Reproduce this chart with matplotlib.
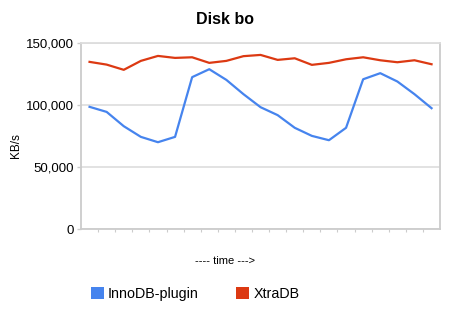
import matplotlib
matplotlib.use('Agg')
import matplotlib.pyplot as plt
from matplotlib.patches import Patch
import numpy as np

plt.rcParams['font.family'] = ['Liberation Sans', 'DejaVu Sans']

# values (KB/s per time sample)
innodb_plugin = [98500, 94400, 82900, 74300, 70000, 74300, 122400, 128800, 120200, 108700,
                 98200, 91800, 81600, 75100, 71600, 81600, 120700, 125600, 118900, 108700, 97400]
xtradb = [134700, 132500, 128300, 135500, 139500, 137900, 138400, 133900, 135500, 139300,
          140300, 136300, 137600, 132300, 133900, 136800, 138400, 136000, 134400, 136000, 132800]
series_names = ['InnoDB-plugin', 'XtraDB']
series_colors = ['#4684EE', '#DC3912']
y_ticks = [0, 50000, 100000, 150000]

fig = plt.figure(figsize=(4.5, 3.2), dpi=100)
ax = fig.add_axes([0.18, 0.284, 0.798, 0.582])

x = np.arange(len(innodb_plugin))
ax.plot(x, innodb_plugin, color=series_colors[0], lw=1.6, zorder=3)
ax.plot(x, xtradb, color=series_colors[1], lw=1.6, zorder=3)

ax.set_xlim(-0.5, len(x) - 0.5)
ax.set_ylim(0, 150000)
ax.set_yticks(y_ticks)
ax.set_yticklabels(['{:,}'.format(v) for v in y_ticks], fontsize=9.5)
ax.set_xticks(np.arange(0.5, len(x) - 0.5, 1))
ax.set_xticklabels([])
ax.grid(axis='y', color='#dddddd', lw=1.2)
ax.set_axisbelow(True)
ax.tick_params(axis='x', length=2.5, color='#cccccc', width=0.8)
ax.tick_params(axis='y', length=3, color='#cccccc', width=1, pad=2)
for s in ['left', 'bottom', 'right', 'top']:
    ax.spines[s].set_color('#cccccc')
    ax.spines[s].set_linewidth(1.3)
ax.spines['top'].set_color('#dddddd')

fig.text(0.5, 0.94, 'Disk bo', ha='center', va='center', fontsize=11.5, fontweight='bold')
fig.text(0.035, 0.545, 'KB/s', ha='center', va='center', rotation=90, fontsize=8.5)
fig.text(0.5, 0.183, '---- time --->', ha='center', va='center', fontsize=8)

handles = [Patch(facecolor=c, edgecolor='none') for c in series_colors]
fig.legend(handles, series_names, loc='center left', bbox_to_anchor=(0.202, 0.082),
           ncol=2, frameon=False, fontsize=10.3, handlelength=0.9, handleheight=0.9,
           handletextpad=0.3, columnspacing=2.6, borderpad=0, borderaxespad=0)

plt.savefig('out.png', dpi=100)
